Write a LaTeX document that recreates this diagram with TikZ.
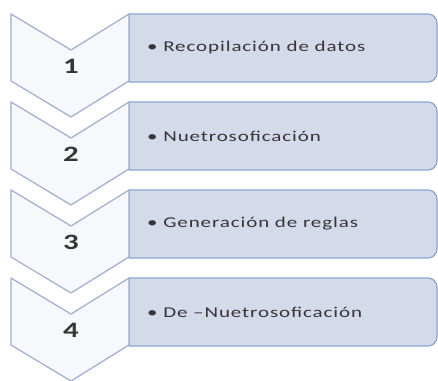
\documentclass[tikz,border=0pt]{standalone}
\usepackage{fontspec}
\setmainfont{Carlito}
\newfontfamily\stepfont[FakeStretch=1.4,LetterSpace=6]{Carlito}
\newfontfamily\numfont[FakeStretch=1.4]{Carlito}
\definecolor{barfill}{HTML}{D4DAEA}
\definecolor{barline}{HTML}{8DA4CE}
\definecolor{chevfill}{HTML}{F7F8FC}
\definecolor{chevline}{HTML}{9AAFD4}
\definecolor{steptext}{HTML}{363636}
\begin{document}
\begin{tikzpicture}[line cap=round,line join=round,x=1pt,y=1pt,
  bar/.style={line width=1.2pt,draw=barline,fill=barfill},
  chev/.style={line width=1.2pt,draw=chevline,fill=chevfill},
  steplabel/.style={anchor=west,inner sep=0pt,text=steptext,font=\stepfont\fontsize{15}{18}\selectfont},
  stepnum/.style={inner sep=0pt,text=steptext,font=\numfont\bfseries\fontsize{22}{26}\selectfont}]
\useasboundingbox (0,0) rectangle (438,380);
% paso 1
\draw [bar] (129,366)-- (428,366) arc [start angle=90,end angle=0,radius=9]-- (437,307) arc [start angle=0,end angle=-90,radius=9]-- (129,298)-- cycle;
\draw [chev] (11,366)-- (71,330)-- (129,366)-- (129,299)-- (71,263)-- (11,299)-- cycle;
\node[stepnum] (n1) at (71,314) {1};
\node[steplabel] (t1) at (147,332) {• Recopilación de datos};
% paso 2
\draw [bar] (129,278)-- (428,278) arc [start angle=90,end angle=0,radius=9]-- (437,219) arc [start angle=0,end angle=-90,radius=9]-- (129,210)-- cycle;
\draw [chev] (11,278)-- (71,242)-- (129,278)-- (129,211)-- (71,175)-- (11,211)-- cycle;
\node[stepnum] (n2) at (71,226) {2};
\node[steplabel] (t2) at (147,244) {• Nuetrosoficación};
% paso 3
\draw [bar] (129,190)-- (428,190) arc [start angle=90,end angle=0,radius=9]-- (437,131) arc [start angle=0,end angle=-90,radius=9]-- (129,122)-- cycle;
\draw [chev] (11,190)-- (71,154)-- (129,190)-- (129,123)-- (71,87)-- (11,123)-- cycle;
\node[stepnum] (n3) at (71,138) {3};
\node[steplabel] (t3) at (147,156) {• Generación de reglas};
% paso 4
\draw [bar] (129,102)-- (428,102) arc [start angle=90,end angle=0,radius=9]-- (437,43) arc [start angle=0,end angle=-90,radius=9]-- (129,34)-- cycle;
\draw [chev] (11,102)-- (71,66)-- (129,102)-- (129,35)-- (71,-1)-- (11,35)-- cycle;
\node[stepnum] (n4) at (71,50) {4};
\node[steplabel] (t4) at (147,68) {• De –Nuetrosoficación};
\end{tikzpicture}
\end{document}
